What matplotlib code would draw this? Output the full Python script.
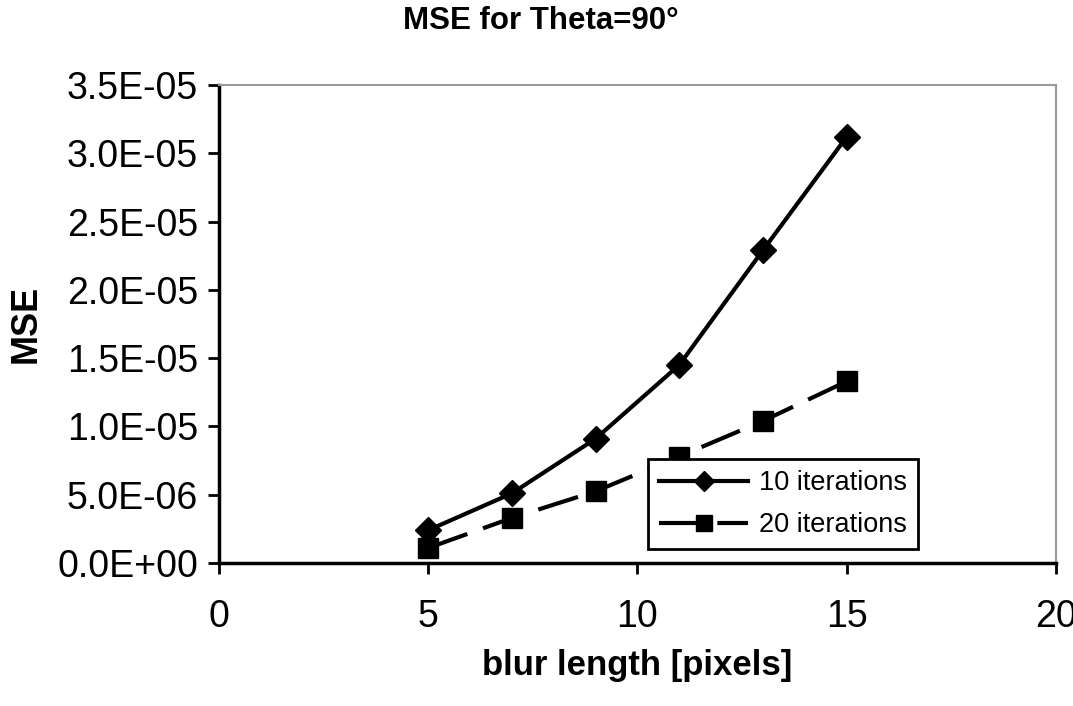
import matplotlib
matplotlib.use("Agg")
import matplotlib.pyplot as plt
from matplotlib.ticker import FuncFormatter

plt.rcParams['font.family'] = ['Liberation Sans', 'DejaVu Sans']

blur_length = [5, 7, 9, 11, 13, 15]
mse_10_iter = [2.4e-6, 5.1e-6, 9.1e-6, 1.45e-5, 2.29e-5, 3.12e-5]
mse_20_iter = [1.1e-6, 3.3e-6, 5.25e-6, 7.8e-6, 1.04e-5, 1.33e-5]
series_labels = ["10 iterations", "20 iterations"]
title = "MSE for Theta=90°"
x_label = "blur length [pixels]"
y_label = "MSE"

fig = plt.figure(figsize=(10.73, 7.06), dpi=100)
ax = fig.add_axes([0.204, 0.2025, 0.780, 0.677])

ax.plot(blur_length, mse_10_iter, color='black', lw=3, marker='D', ms=13,
        label=series_labels[0], zorder=3)
ax.plot(blur_length, mse_20_iter, color='black', lw=3, marker='s', ms=14,
        dashes=(10, 4), label=series_labels[1], zorder=3)

ax.set_xlim(0, 20)
ax.set_ylim(0, 3.5e-5)
ax.set_xticks([0, 5, 10, 15, 20])
ax.set_yticks([i * 5e-6 for i in range(8)])

def fmt(v, pos):
    s = "%.1E" % v
    mant, exp = s.split("E")
    e = int(exp)
    return "%sE%s%02d" % (mant, "-" if e < 0 else "+", abs(e))

ax.yaxis.set_major_formatter(FuncFormatter(fmt))
ax.tick_params(axis='both', direction='out', length=8, width=2, labelsize=27)
ax.tick_params(axis='y', pad=7)
ax.tick_params(axis='x', pad=18)

for side in ['top', 'right']:
    ax.spines[side].set_color('#999999')
    ax.spines[side].set_linewidth(1.5)
for side in ['left', 'bottom']:
    ax.spines[side].set_color('black')
    ax.spines[side].set_linewidth(2.5)

ax.set_xlabel(x_label, fontsize=25, fontweight='bold', labelpad=10)
ax.set_ylabel(y_label, fontsize=26, fontweight='bold', labelpad=10)
fig.text(0.504, 0.97, title, fontsize=22.5, fontweight='bold', ha='center', va='center')

leg = ax.legend(loc='lower left', bbox_to_anchor=(0.513, 0.029), fontsize=19.5,
                frameon=True, fancybox=False, edgecolor='black', framealpha=1,
                handlelength=3.3, handletextpad=0.4, borderpad=0.4, labelspacing=0.6,
                borderaxespad=0, markerscale=0.8)
leg.get_frame().set_linewidth(2)
leg.set_zorder(5)

fig.savefig("out.png", dpi=100)
